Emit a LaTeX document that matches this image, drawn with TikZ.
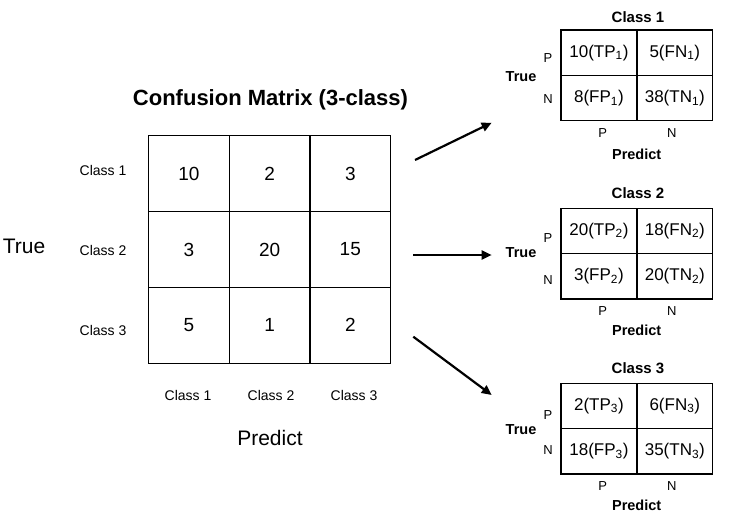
\documentclass[tikz,border=0pt]{standalone}
\usepackage{fontspec}
\setmainfont{Liberation Sans}
\usetikzlibrary{arrows.meta}

\begin{document}
\begin{tikzpicture}[x=1pt, y=-1pt, >={Triangle[length=10pt,width=9pt]},
		bigcell/.style={rectangle, draw, line width=1.3pt, minimum width=80.7pt, minimum height=75.9pt, inner sep=0pt, font=\fontsize{19}{21}\selectfont},
		smallcell/.style={rectangle, draw, line width=1.3pt, minimum width=75.8pt, minimum height=45.4pt, inner sep=0pt, font=\fontsize{17}{19}\selectfont},
		headline/.style={inner sep=0pt, font=\bfseries\fontsize{22}{24}\selectfont},
		biglabel/.style={inner sep=0pt, font=\fontsize{21}{23}\selectfont},
		classlabel/.style={inner sep=0pt, font=\fontsize{14}{16}\selectfont},
		smalltitle/.style={inner sep=0pt, font=\bfseries\fontsize{15}{17}\selectfont},
		smallbold/.style={inner sep=0pt, font=\bfseries\fontsize{14.5}{16}\selectfont},
		pn/.style={inner sep=0pt, font=\fontsize{13}{15}\selectfont}]
		\useasboundingbox (0,0) rectangle (732,519);
		
		% Big matrix
		\node[bigcell] (c11) at (189,173.7) {10};
		\node[bigcell] (c12) at (269.7,173.7) {2};
		\node[bigcell] (c13) at (350.3,173.7) {3};
		\node[bigcell] (c21) at (189,249.5) {3};
		\node[bigcell] (c22) at (269.7,249.5) {20};
		\node[bigcell] (c23) at (350.3,249.5) {15};
		\node[bigcell] (c31) at (189,325.3) {5};
		\node[bigcell] (c32) at (269.7,325.3) {1};
		\node[bigcell] (c33) at (350.3,325.3) {2};
		
		\node[headline] (title) at (270.5,100) {Confusion Matrix (3-class)};
		\node[biglabel] (true) at (24,246.7) {True};
		\node[biglabel] (predict) at (270,438) {Predict};
		\node[classlabel] (r1) at (103,170) {Class 1};
		\node[classlabel] (r2) at (103,250) {Class 2};
		\node[classlabel] (r3) at (103,330) {Class 3};
		\node[classlabel] (k1) at (188,395) {Class 1};
		\node[classlabel] (k2) at (271,395) {Class 2};
		\node[classlabel] (k3) at (354,395) {Class 3};
		
		% Class 1
		\node[smallcell] (a11) at (598.9,52.7) {10(TP\textsubscript{1})};
		\node[smallcell] (a12) at (674.8,52.7) {5(FN\textsubscript{1})};
		\node[smallcell] (a21) at (598.9,98.1) {8(FP\textsubscript{1})};
		\node[smallcell] (a22) at (674.8,98.1) {38(TN\textsubscript{1})};
		\node[smalltitle] (atitle) at (638,16.7) {Class 1};
		\node[smallbold] (atrue) at (521,77) {True};
		\node[pn] (ap) at (548,58) {P};
		\node[pn] (an) at (548,99) {N};
		\node[pn] (acp) at (602.7,132.7) {P};
		\node[pn] (acn) at (671.7,132.7) {N};
		\node[smallbold] (apred) at (636.7,154) {Predict};
		
		% Class 2
		\node[smallcell] (b11) at (598.9,231) {20(TP\textsubscript{2})};
		\node[smallcell] (b12) at (674.8,231) {18(FN\textsubscript{2})};
		\node[smallcell] (b21) at (598.9,276.4) {3(FP\textsubscript{2})};
		\node[smallcell] (b22) at (674.8,276.4) {20(TN\textsubscript{2})};
		\node[smalltitle] (btitle) at (638,193.3) {Class 2};
		\node[smallbold] (btrue) at (521,252.3) {True};
		\node[pn] (bp) at (548,237.7) {P};
		\node[pn] (bn) at (548,280) {N};
		\node[pn] (bcp) at (602.7,311) {P};
		\node[pn] (bcn) at (671.7,311) {N};
		\node[smallbold] (bpred) at (636.7,330) {Predict};
		
		% Class 3
		\node[smallcell] (d11) at (598.9,406) {2(TP\textsubscript{3})};
		\node[smallcell] (d12) at (674.8,406) {6(FN\textsubscript{3})};
		\node[smallcell] (d21) at (598.9,451.4) {18(FP\textsubscript{3})};
		\node[smallcell] (d22) at (674.8,451.4) {35(TN\textsubscript{3})};
		\node[smalltitle] (dtitle) at (638,368.3) {Class 3};
		\node[smallbold] (dtrue) at (521,430) {True};
		\node[pn] (dp) at (548,415) {P};
		\node[pn] (dn) at (548,450) {N};
		\node[pn] (dcp) at (602.7,486) {P};
		\node[pn] (dcn) at (671.7,486) {N};
		\node[smallbold] (dpred) at (636.7,505) {Predict};
		
		% Arrows
		\coordinate (s1) at (415,160);
		\coordinate (e1) at (491.7,122.7);
		\coordinate (s2) at (413.3,255);
		\coordinate (e2) at (491.7,255);
		\coordinate (s3) at (413.3,336.7);
		\coordinate (e3) at (491.7,395);
		\draw[->, line width=2.2pt] (s1) -- (e1);
		\draw[->, line width=2.2pt] (s2) -- (e2);
		\draw[->, line width=2.2pt] (s3) -- (e3);
		
	\end{tikzpicture}
\end{document}
